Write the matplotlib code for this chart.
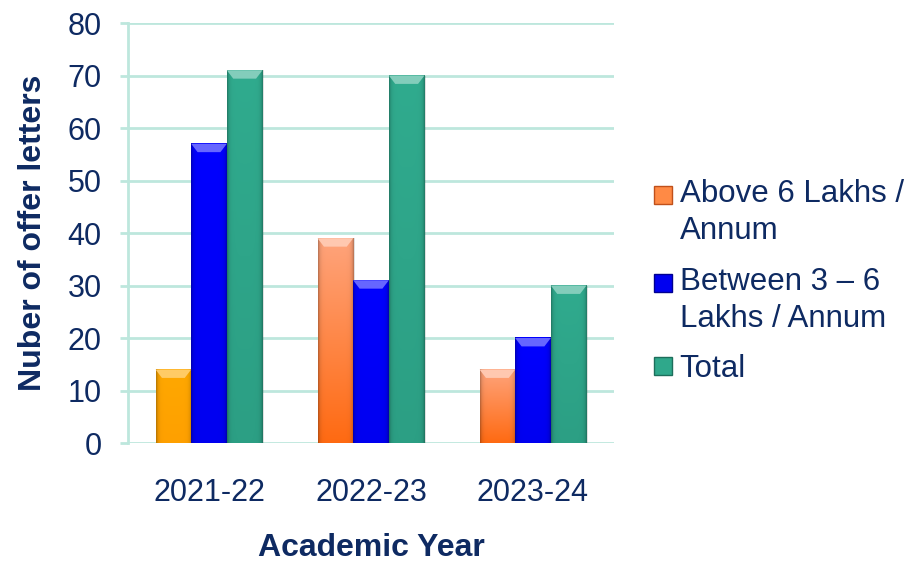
import numpy as np
import matplotlib.pyplot as plt
from matplotlib.colors import to_rgb
from matplotlib.lines import Line2D
from matplotlib.legend_handler import HandlerLine2D

plt.rcParams['font.family'] = ['Liberation Sans', 'DejaVu Sans']

years = ["2021-22", "2022-23", "2023-24"]
above_6 = [14, 39, 14]
between_3_6 = [57, 31, 20]
total = [71, 70, 30]
series_names = ["Above 6 Lakhs /\nAnnum", "Between 3 \u2013 6\nLakhs / Annum", "Total"]

navy = "#0E2A62"
grid_col = "#BDE7DD"

# (top colour, bottom colour) for each bar
above_cols = [("#FFA800", "#FFA000"), ("#FFA47C", "#FF6A12"), ("#FFA47C", "#FF6A12")]
blue_cols = [("#0000FF", "#0000F0")] * 3
teal_cols = [("#30AB8E", "#2C9F84")] * 3


def shade_bar(ax, patch, top, bottom):
    x0, w, h = patch.get_x(), patch.get_width(), patch.get_height()
    ny, nx = 200, 60
    t = np.linspace(0, 1, ny)[:, None, None]
    c_top, c_bot = np.array(to_rgb(top)), np.array(to_rgb(bottom))
    img = c_top * (1 - t) + c_bot * t
    xs = np.linspace(0, 1, nx)
    edge = 1 - 0.28 * (np.exp(-xs / 0.05) + np.exp(-(1 - xs) / 0.05))
    img = img * edge[None, :, None]
    ax.imshow(np.clip(img, 0, 1), extent=[x0, x0 + w, 0, h], aspect="auto",
              interpolation="bilinear", zorder=3)
    # bevel highlight at the top
    bev = min(1.6, h * 0.4)
    ins = w * 0.18
    hi = np.clip(c_top * 0.6 + 0.4, 0, 1)
    ax.fill([x0, x0 + w, x0 + w - ins, x0 + ins],
            [h, h, h - bev, h - bev], color=hi, zorder=4, lw=0)
    # soft shadow on the right
    ax.fill_between([x0 + w, x0 + w + 0.012], 0, h, color="#000000",
                    alpha=0.12, lw=0, zorder=2)


class TopHandler(HandlerLine2D):
    # puts the marker level with the first line of a two-line label
    def __init__(self, dy, **kw):
        super().__init__(**kw)
        self.dy = dy

    def create_artists(self, *args, **kw):
        arts = super().create_artists(*args, **kw)
        for a in arts:
            a.set_ydata(np.asarray(a.get_ydata(), float) + self.dy)
        return arts


fig = plt.figure(figsize=(9.13, 5.61), dpi=100)
ax = fig.add_axes([0.1402, 0.2103, 0.5323, 0.7487])

x = np.arange(len(years))
w = 0.22
groups = [(above_6, above_cols), (between_3_6, blue_cols), (total, teal_cols)]
for i, (vals, cols) in enumerate(groups):
    bars = ax.bar(x + (i - 1) * w, vals, w, color="none", zorder=3)
    for p, (ct, cb) in zip(bars, cols):
        shade_bar(ax, p, ct, cb)

ax.set_xlim(-0.5, len(years) - 0.5)
ax.set_ylim(0, 80)
ax.set_yticks(range(0, 81, 10))
ax.set_xticks(x)
ax.set_xticklabels(years)
ax.yaxis.grid(True, color=grid_col, lw=2, zorder=0)
ax.set_axisbelow(True)
for s in ["top", "right", "bottom"]:
    ax.spines[s].set_visible(False)
ax.spines["left"].set_color(grid_col)
ax.spines["left"].set_linewidth(2)
ax.tick_params(axis="y", colors=grid_col, labelcolor=navy, labelsize=22,
               length=6, width=2, pad=13)
ax.tick_params(axis="x", length=0, labelcolor=navy, labelsize=22, pad=25)
ax.set_xlabel("Academic Year", fontsize=23, fontweight="bold", color=navy,
              labelpad=18)
ax.set_ylabel("Nuber of offer letters", fontsize=23, fontweight="bold",
              color=navy, labelpad=14)

handles = [Line2D([], [], ls="none", marker="s", markersize=12.5,
                  markerfacecolor=c, markeredgecolor=e, markeredgewidth=1)
           for c, e in [("#FF8A45", "#C0501A"), ("#0000F0", "#000090"),
                        ("#2FA88B", "#1D6E5B")]]
hmap = {h: TopHandler(dy) for h, dy in zip(handles, [13, 13, 0])}
leg = fig.legend(handles, series_names, loc="center left",
                 bbox_to_anchor=(0.702, 0.4975), frameon=False, fontsize=22.5,
                 labelcolor=navy, handletextpad=0.24, labelspacing=0.66,
                 handlelength=0.6, borderaxespad=0, handler_map=hmap)
for txt in leg.get_texts():
    txt.set_linespacing(1.3)

fig.savefig("out.png", dpi=100)
